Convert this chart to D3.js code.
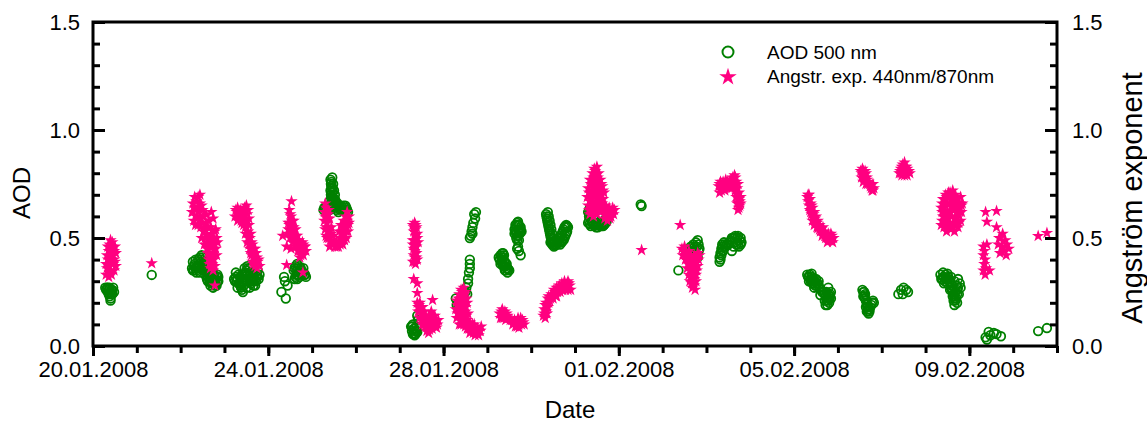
<!DOCTYPE html>
<html>
<head>
<meta charset="utf-8">
<script src="https://cdn.jsdelivr.net/npm/d3@7"></script>
<style>
  body { margin: 0; background: #fff; }
  svg { display: block; font-family: "Liberation Sans", Arial, sans-serif; }
</style>
</head>
<body>
<svg id="chart" width="1147" height="423"></svg>
<script>
// time is given in days after 20.01.2008 00:00 (UTC)
const startDate = Date.UTC(2008, 0, 20);
const endDate = Date.UTC(2008, 1, 11);

// AOD 500 nm  [day, value]
const aodPoints = [
  [0.28,0.27],[0.32,0.27],[0.36,0.26],[0.40,0.25],[0.44,0.26],[0.48,0.25],[0.38,0.23],[0.40,0.22],[0.42,0.24],[0.34,0.25],
  [0.30,0.26],[0.34,0.27],[0.38,0.27],[0.42,0.26],[0.46,0.27],[0.36,0.24],[0.44,0.24],[0.40,0.21],
  [1.34,0.329],
  [2.26,0.36],[2.30,0.37],[2.34,0.36],[2.38,0.37],[2.42,0.38],[2.46,0.40],[2.50,0.41],[2.54,0.39],[2.48,0.36],[2.56,0.36],
  [2.60,0.34],[2.64,0.33],[2.68,0.31],[2.72,0.30],[2.76,0.29],[2.80,0.31],[2.84,0.33],[2.86,0.30],[2.70,0.33],[2.78,0.28],[2.62,0.30],
  [2.28,0.35],[2.32,0.38],[2.36,0.35],[2.40,0.36],[2.44,0.37],[2.48,0.39],[2.52,0.38],[2.58,0.35],[2.62,0.32],[2.66,0.30],
  [2.70,0.29],[2.74,0.31],[2.78,0.30],[2.82,0.32],[2.84,0.30],[2.76,0.33],[2.66,0.34],[2.52,0.35],[2.30,0.35],[2.80,0.28],
  [2.28,0.39],[2.34,0.40],[2.40,0.40],[2.44,0.41],[2.48,0.42],[2.36,0.34],[2.44,0.34],[2.56,0.33],[2.60,0.31],[2.68,0.28],
  [2.74,0.27],[2.82,0.28],[2.86,0.32],[2.72,0.34],[2.58,0.37],
  [3.22,0.31],[3.26,0.32],[3.30,0.31],[3.34,0.29],[3.38,0.27],[3.42,0.30],[3.46,0.33],[3.50,0.35],[3.54,0.36],[3.58,0.34],
  [3.62,0.32],[3.66,0.30],[3.70,0.31],[3.74,0.33],[3.78,0.31],[3.36,0.32],[3.48,0.30],[3.60,0.29],[3.40,0.26],
  [3.24,0.30],[3.28,0.30],[3.32,0.29],[3.36,0.28],[3.40,0.29],[3.44,0.31],[3.48,0.34],[3.52,0.33],[3.56,0.32],[3.60,0.31],
  [3.64,0.31],[3.68,0.32],[3.72,0.30],[3.76,0.32],[3.44,0.28],[3.52,0.30],[3.66,0.28],[3.38,0.30],
  [3.26,0.34],[3.32,0.33],[3.40,0.33],[3.46,0.36],[3.52,0.37],[3.58,0.36],[3.64,0.34],[3.70,0.34],[3.76,0.35],[3.80,0.33],
  [3.42,0.25],[3.50,0.27],[3.58,0.27],[3.70,0.28],[3.30,0.27],
  [4.36,0.32],[4.30,0.25],[4.44,0.28],[4.40,0.22],[4.38,0.30],
  [4.58,0.35],[4.62,0.37],[4.66,0.38],[4.70,0.37],[4.74,0.36],[4.78,0.34],[4.82,0.33],[4.86,0.32],[4.64,0.33],[4.72,0.32],[4.60,0.31],[4.80,0.36],
  [4.60,0.36],[4.64,0.35],[4.68,0.36],[4.72,0.35],[4.76,0.35],[4.80,0.34],[4.84,0.33],[4.62,0.32],[4.68,0.33],[4.76,0.33],[4.70,0.34],[4.66,0.31],
  [5.42,0.77],[5.44,0.76],[5.46,0.78],[5.44,0.74],[5.48,0.75],[5.42,0.72],[5.46,0.71],[5.50,0.72],[5.44,0.69],[5.48,0.68],
  [5.52,0.70],[5.40,0.67],[5.46,0.66],[5.50,0.66],[5.54,0.67],[5.58,0.66],[5.36,0.65],[5.30,0.64],[5.26,0.63],[5.34,0.62],
  [5.62,0.64],[5.66,0.65],[5.70,0.64],[5.74,0.63],[5.78,0.64],[5.82,0.62],[5.56,0.63],[5.60,0.62],[5.40,0.63],[5.52,0.64],
  [5.43,0.75],[5.45,0.73],[5.47,0.73],[5.43,0.70],[5.47,0.69],[5.45,0.67],[5.49,0.67],[5.52,0.68],[5.38,0.64],[5.44,0.64],
  [5.48,0.65],[5.56,0.65],[5.64,0.63],[5.68,0.63],[5.72,0.65],[5.76,0.65],[5.80,0.63],[5.32,0.63],[5.28,0.64],
  [7.26,0.09],[7.28,0.07],[7.32,0.06],[7.36,0.055],[7.40,0.065],[7.30,0.10],[7.34,0.08],[7.38,0.09],[7.42,0.12],[7.40,0.14],
  [7.28,0.09],[7.32,0.08],[7.36,0.07],[7.30,0.055],[7.34,0.05],[7.38,0.07],
  [8.70,0.61],[8.74,0.62],[8.72,0.59],[8.68,0.57],[8.66,0.55],[8.64,0.53],[8.62,0.51],[8.60,0.50],[8.66,0.52],
  [8.60,0.40],[8.60,0.38],[8.60,0.36],[8.58,0.34],[8.56,0.31],[8.56,0.29],[8.52,0.27],
  [8.30,0.19],[8.34,0.18],[8.40,0.20],[8.46,0.22],[8.50,0.25],[8.54,0.24],[8.38,0.21],[8.28,0.22],
  [9.30,0.42],[9.34,0.43],[9.38,0.42],[9.28,0.40],[9.34,0.40],[9.40,0.39],[9.30,0.38],[9.36,0.37],[9.42,0.37],[9.46,0.36],
  [9.40,0.35],[9.46,0.34],[9.50,0.35],[9.26,0.41],
  [9.32,0.41],[9.36,0.41],[9.32,0.39],[9.38,0.39],[9.34,0.38],[9.40,0.37],[9.44,0.36],[9.42,0.35],[9.48,0.355],[9.36,0.43],[9.44,0.38],
  [9.70,0.46],[9.72,0.44],[9.76,0.42],[9.68,0.45],
  [9.64,0.56],[9.68,0.57],[9.72,0.56],[9.62,0.54],[9.70,0.54],[9.76,0.55],[9.62,0.52],[9.68,0.51],[9.74,0.52],[9.66,0.50],[9.72,0.49],[9.78,0.53],
  [9.66,0.55],[9.70,0.56],[9.74,0.54],[9.64,0.53],[9.72,0.53],[9.66,0.52],[9.70,0.51],[9.68,0.49],[9.76,0.53],[9.70,0.575],
  [10.34,0.61],[10.36,0.59],[10.38,0.57],[10.40,0.55],[10.42,0.53],[10.44,0.51],[10.46,0.49],[10.48,0.47],[10.52,0.46],[10.56,0.47],
  [10.60,0.48],[10.64,0.50],[10.68,0.51],[10.72,0.53],[10.76,0.55],[10.80,0.56],[10.84,0.55],[10.82,0.53],[10.78,0.51],[10.74,0.49],
  [10.70,0.48],[10.38,0.62],[10.42,0.58],[10.46,0.54],[10.50,0.50],[10.44,0.48],[10.66,0.47],
  [10.35,0.60],[10.37,0.58],[10.39,0.56],[10.41,0.54],[10.43,0.52],[10.45,0.50],[10.47,0.48],[10.50,0.47],[10.54,0.465],[10.58,0.47],
  [10.62,0.49],[10.66,0.50],[10.70,0.52],[10.74,0.54],[10.78,0.555],[10.82,0.555],[10.80,0.52],[10.76,0.50],[10.72,0.49],[10.68,0.48],
  [10.64,0.48],[10.40,0.60],[10.44,0.56],[10.48,0.52],[10.52,0.48],
  [11.30,0.62],[11.34,0.64],[11.32,0.60],[11.38,0.58],[11.30,0.57],[11.36,0.555],[11.42,0.56],[11.48,0.55],[11.54,0.56],[11.60,0.555],
  [11.66,0.56],[11.70,0.57],[11.72,0.59],[11.44,0.59],[11.40,0.62],
  [11.32,0.63],[11.34,0.61],[11.36,0.59],[11.32,0.58],[11.34,0.565],[11.40,0.57],[11.46,0.56],[11.52,0.55],[11.58,0.56],[11.64,0.555],
  [11.68,0.565],[11.72,0.575],[11.70,0.59],[11.42,0.60],[11.38,0.61],[11.50,0.57],[11.60,0.57],
  [12.50,0.655],[12.52,0.648],
  [13.36,0.35],
  [13.80,0.49],[13.82,0.47],[13.78,0.46],[13.70,0.47],[13.64,0.46],[13.60,0.44],[13.66,0.43],[13.74,0.44],[13.84,0.45],[13.62,0.41],[13.70,0.40],[13.80,0.41],
  [13.76,0.48],[13.72,0.46],[13.68,0.45],[13.64,0.44],[13.68,0.42],[13.76,0.43],[13.82,0.44],[13.74,0.41],[13.66,0.41],
  [14.30,0.41],[14.32,0.43],[14.34,0.45],[14.36,0.47],[14.40,0.48],[14.30,0.39],[14.38,0.44],[14.44,0.46],[14.50,0.47],[14.56,0.49],
  [14.60,0.50],[14.66,0.51],[14.72,0.51],[14.78,0.50],[14.80,0.48],[14.74,0.46],[14.68,0.47],[14.62,0.46],[14.58,0.44],
  [14.32,0.40],[14.34,0.42],[14.36,0.44],[14.38,0.46],[14.42,0.47],[14.46,0.47],[14.52,0.48],[14.58,0.50],[14.64,0.50],[14.70,0.50],
  [14.76,0.49],[14.78,0.47],[14.72,0.47],[14.66,0.48],
  [16.32,0.32],[16.36,0.33],[16.40,0.32],[16.44,0.31],[16.48,0.30],[16.34,0.30],[16.42,0.29],[16.50,0.28],[16.54,0.29],[16.58,0.27],
  [16.46,0.27],[16.64,0.25],[16.70,0.24],[16.76,0.22],[16.80,0.20],[16.76,0.19],[16.82,0.23],[16.84,0.25],[16.78,0.27],[16.60,0.236],
  [16.34,0.32],[16.38,0.31],[16.42,0.31],[16.46,0.30],[16.38,0.30],[16.44,0.29],[16.48,0.28],[16.52,0.29],[16.56,0.28],[16.62,0.26],
  [16.68,0.25],[16.72,0.23],[16.74,0.21],[16.78,0.21],[16.80,0.22],[16.82,0.24],[16.78,0.24],[16.74,0.25],
  [16.30,0.33],[16.40,0.335],[16.50,0.31],[16.56,0.30],[16.70,0.21],[16.72,0.19],[16.84,0.22],
  [17.56,0.26],[17.60,0.25],[17.58,0.23],[17.62,0.22],[17.66,0.20],[17.64,0.18],[17.68,0.16],[17.72,0.17],[17.76,0.19],[17.80,0.21],[17.82,0.20],[17.70,0.15],
  [17.58,0.25],[17.60,0.23],[17.62,0.24],[17.64,0.21],[17.66,0.19],[17.68,0.18],[17.70,0.17],[17.72,0.16],[17.74,0.18],[17.78,0.20],[17.66,0.16],
  [18.38,0.24],[18.44,0.26],[18.50,0.27],[18.56,0.26],[18.60,0.25],[18.48,0.24],
  [19.36,0.31],[19.40,0.32],[19.46,0.33],[19.52,0.32],[19.42,0.29],[19.50,0.29],[19.56,0.30],[19.60,0.28],[19.56,0.26],[19.62,0.25],
  [19.66,0.23],[19.70,0.22],[19.64,0.21],[19.72,0.26],[19.78,0.29],[19.76,0.24],[19.70,0.28],[19.48,0.31],
  [19.38,0.31],[19.42,0.32],[19.46,0.31],[19.50,0.31],[19.54,0.30],[19.58,0.29],[19.58,0.27],[19.60,0.26],[19.64,0.24],[19.66,0.22],
  [19.68,0.21],[19.68,0.25],[19.72,0.24],[19.74,0.27],[19.44,0.30],[19.62,0.23],
  [19.34,0.33],[19.40,0.34],[19.50,0.335],[19.58,0.32],[19.66,0.30],[19.74,0.31],[19.80,0.27],[19.66,0.19],[19.72,0.20],
  [20.37,0.04],[20.44,0.065],[20.48,0.05],[20.56,0.06],[20.62,0.055],[20.72,0.045],[20.40,0.03],
  [21.57,0.069],[21.77,0.083]
];

// Angstrom exponent 440/870 nm  [day, value]
const angstromPoints = [
  [0.30,0.33],[0.32,0.36],[0.34,0.40],[0.36,0.44],[0.38,0.47],[0.40,0.49],[0.42,0.46],[0.44,0.42],[0.46,0.38],[0.48,0.35],
  [0.50,0.39],[0.52,0.43],[0.36,0.32],[0.40,0.35],[0.44,0.45],[0.30,0.38],[0.48,0.44],[0.42,0.40],
  [0.32,0.42],[0.36,0.37],[0.38,0.41],[0.40,0.44],[0.44,0.48],[0.46,0.42],[0.50,0.46],[0.34,0.46],[0.38,0.34],[0.42,0.33],[0.48,0.40],[0.52,0.37],
  [1.34,0.383],
  [2.26,0.62],[2.28,0.66],[2.32,0.64],[2.36,0.67],[2.40,0.69],[2.44,0.70],[2.30,0.58],[2.36,0.60],[2.42,0.62],[2.48,0.65],
  [2.52,0.60],[2.40,0.56],[2.46,0.55],[2.52,0.53],[2.58,0.57],[2.62,0.55],[2.70,0.62],[2.74,0.59],[2.48,0.50],[2.56,0.50],
  [2.62,0.48],[2.70,0.52],[2.76,0.50],[2.80,0.54],[2.60,0.45],[2.66,0.43],[2.72,0.46],[2.80,0.45],[2.84,0.48],[2.64,0.40],
  [2.70,0.38],[2.76,0.40],[2.82,0.42],[2.68,0.36],[2.74,0.35],[2.78,0.28],
  [2.28,0.62],[2.32,0.69],[2.38,0.64],[2.44,0.66],[2.34,0.56],[2.44,0.59],[2.50,0.57],[2.56,0.54],[2.64,0.58],[2.68,0.55],
  [2.54,0.47],[2.60,0.51],[2.66,0.50],[2.72,0.49],[2.78,0.53],[2.62,0.43],[2.68,0.46],[2.74,0.43],[2.78,0.47],[2.82,0.50],
  [2.72,0.38],[2.78,0.37],[2.66,0.38],[2.70,0.41],[2.76,0.45],[2.50,0.63],[2.58,0.61],
  [3.24,0.60],[3.28,0.62],[3.32,0.61],[3.36,0.63],[3.40,0.62],[3.46,0.64],[3.50,0.65],[3.54,0.63],[3.30,0.58],[3.38,0.58],
  [3.44,0.56],[3.50,0.58],[3.56,0.56],[3.48,0.52],[3.54,0.50],[3.60,0.52],[3.56,0.47],[3.62,0.48],[3.66,0.45],[3.60,0.43],
  [3.66,0.41],[3.72,0.43],[3.64,0.39],[3.70,0.37],[3.76,0.39],[3.80,0.37],[3.74,0.41],
  [3.26,0.63],[3.34,0.60],[3.42,0.60],[3.44,0.63],[3.52,0.61],[3.40,0.57],[3.48,0.55],[3.54,0.53],[3.58,0.50],[3.52,0.48],
  [3.58,0.45],[3.64,0.47],[3.62,0.42],[3.68,0.43],[3.66,0.38],[3.72,0.39],[3.74,0.36],[3.78,0.40],[3.70,0.45],[3.56,0.59],[3.30,0.64],
  [4.53,0.67],[4.33,0.51],[4.42,0.46],[4.42,0.375],[4.79,0.34],
  [4.48,0.63],[4.52,0.60],[4.50,0.57],[4.46,0.54],[4.54,0.55],[4.58,0.58],[4.44,0.52],[4.50,0.50],[4.56,0.52],[4.62,0.54],
  [4.60,0.50],[4.66,0.51],[4.70,0.49],[4.64,0.47],[4.72,0.46],[4.78,0.48],[4.82,0.46],[4.86,0.44],[4.68,0.44],[4.76,0.43],
  [4.72,0.41],[4.80,0.42],[4.56,0.48],[4.52,0.45],
  [4.50,0.61],[4.54,0.58],[4.48,0.56],[4.52,0.53],[4.58,0.55],[4.62,0.51],[4.56,0.50],[4.68,0.48],[4.62,0.46],[4.74,0.47],
  [4.70,0.45],[4.78,0.45],[4.84,0.46],[4.74,0.42],[4.66,0.49],[4.46,0.57],[4.80,0.47],
  [5.28,0.62],[5.32,0.64],[5.36,0.61],[5.28,0.58],[5.34,0.57],[5.40,0.59],[5.30,0.54],[5.38,0.53],[5.44,0.55],[5.34,0.50],
  [5.42,0.49],[5.48,0.51],[5.40,0.46],[5.46,0.47],[5.52,0.46],[5.56,0.48],[5.60,0.46],
  [5.64,0.50],[5.68,0.53],[5.66,0.56],[5.72,0.58],[5.76,0.60],[5.80,0.62],[5.84,0.60],[5.82,0.56],[5.78,0.53],[5.74,0.49],
  [5.70,0.47],[5.84,0.57],[5.62,0.53],
  [5.30,0.60],[5.34,0.59],[5.32,0.55],[5.36,0.55],[5.32,0.51],[5.38,0.50],[5.44,0.52],[5.44,0.48],[5.50,0.48],[5.56,0.46],
  [5.64,0.47],[5.68,0.49],[5.72,0.52],[5.76,0.56],[5.80,0.58],[5.78,0.50],[5.70,0.55],[5.74,0.54],[5.82,0.53],[5.38,0.63],[5.30,0.66],
  [7.30,0.56],[7.34,0.57],[7.38,0.55],[7.32,0.53],[7.36,0.51],[7.40,0.52],[7.30,0.49],[7.36,0.47],[7.42,0.48],[7.32,0.45],
  [7.38,0.43],[7.34,0.41],[7.40,0.40],[7.30,0.39],[7.36,0.38],
  [7.32,0.55],[7.36,0.54],[7.34,0.49],[7.38,0.46],[7.34,0.44],[7.32,0.42],[7.38,0.41],[7.34,0.39],[7.40,0.50],[7.30,0.47],[7.36,0.56],
  [7.32,0.31],[7.40,0.29],[7.40,0.245],[7.75,0.213],
  [7.40,0.20],[7.44,0.19],[7.48,0.18],[7.42,0.16],[7.50,0.15],[7.56,0.16],[7.46,0.13],[7.54,0.12],[7.60,0.13],[7.66,0.14],
  [7.52,0.10],[7.58,0.09],[7.64,0.10],[7.70,0.11],[7.76,0.12],[7.82,0.11],[7.88,0.12],[7.62,0.07],[7.68,0.075],[7.74,0.08],
  [7.84,0.085],[7.72,0.16],[7.80,0.14],
  [7.42,0.18],[7.46,0.16],[7.50,0.12],[7.56,0.14],[7.62,0.12],[7.56,0.10],[7.62,0.09],[7.68,0.09],[7.72,0.10],[7.66,0.12],
  [7.70,0.13],[7.78,0.10],[7.86,0.10],[7.80,0.09],[7.66,0.06],[7.76,0.14],[7.46,0.20],[7.52,0.18],
  [8.40,0.26],[8.46,0.27],[8.50,0.25],[8.36,0.24],[8.44,0.23],[8.52,0.22],[8.30,0.21],[8.38,0.20],[8.46,0.19],[8.54,0.20],
  [8.28,0.17],[8.34,0.16],[8.42,0.17],[8.50,0.16],[8.56,0.15],[8.30,0.13],[8.38,0.12],[8.46,0.13],[8.54,0.12],[8.60,0.11],
  [8.66,0.10],[8.40,0.10],[8.50,0.09],[8.58,0.08],[8.64,0.07],[8.70,0.08],[8.76,0.06],[8.82,0.07],[8.86,0.09],[8.80,0.05],[8.72,0.05],
  [8.42,0.25],[8.48,0.24],[8.34,0.22],[8.40,0.22],[8.48,0.21],[8.32,0.19],[8.42,0.19],[8.50,0.18],[8.36,0.18],[8.44,0.15],
  [8.38,0.15],[8.32,0.15],[8.52,0.14],[8.42,0.12],[8.50,0.11],[8.56,0.10],[8.62,0.09],[8.46,0.10],[8.54,0.08],[8.68,0.06],
  [8.74,0.07],[8.78,0.08],[8.84,0.07],[8.60,0.06],[8.70,0.10],[8.36,0.10],
  [9.28,0.15],[9.34,0.17],[9.40,0.16],[9.30,0.13],[9.38,0.13],[9.46,0.14],[9.52,0.12],[9.58,0.10],[9.62,0.12],[9.68,0.09],
  [9.74,0.11],[9.80,0.12],[9.84,0.10],[9.70,0.13],[9.64,0.09],
  [9.32,0.16],[9.36,0.15],[9.44,0.15],[9.34,0.13],[9.42,0.12],[9.56,0.12],[9.60,0.11],[9.66,0.11],[9.72,0.10],[9.78,0.10],
  [9.76,0.13],[9.82,0.11],[9.72,0.085],
  [10.28,0.14],[10.32,0.13],[10.36,0.15],[10.30,0.17],[10.38,0.18],[10.34,0.20],[10.42,0.21],[10.40,0.23],[10.46,0.24],[10.50,0.22],
  [10.52,0.26],[10.58,0.27],[10.64,0.28],[10.70,0.29],[10.76,0.30],[10.82,0.29],[10.88,0.28],[10.90,0.26],[10.84,0.26],[10.72,0.26],
  [10.60,0.25],[10.56,0.23],[10.66,0.25],
  [10.30,0.15],[10.34,0.16],[10.32,0.19],[10.36,0.19],[10.40,0.20],[10.38,0.22],[10.44,0.22],[10.48,0.23],[10.54,0.25],[10.62,0.27],
  [10.68,0.27],[10.74,0.28],[10.80,0.28],[10.86,0.29],[10.78,0.26],[10.70,0.26],[10.58,0.23],[10.84,0.30],
  [11.44,0.82],[11.50,0.83],[11.40,0.80],[11.48,0.79],[11.54,0.80],[11.34,0.77],[11.42,0.76],[11.50,0.76],[11.58,0.77],[11.30,0.73],
  [11.38,0.72],[11.46,0.73],[11.54,0.72],[11.62,0.74],[11.28,0.69],[11.36,0.68],[11.44,0.69],[11.52,0.68],[11.60,0.70],[11.66,0.71],
  [11.30,0.65],[11.38,0.64],[11.46,0.65],[11.54,0.64],[11.62,0.66],[11.34,0.61],[11.42,0.60],[11.50,0.61],[11.58,0.62],[11.66,0.63],
  [11.72,0.61],[11.78,0.64],[11.84,0.62],[11.90,0.63],[11.74,0.58],[11.80,0.59],[11.68,0.59],
  [11.46,0.81],[11.42,0.78],[11.52,0.78],[11.36,0.75],[11.44,0.74],[11.52,0.74],[11.60,0.75],[11.32,0.71],[11.40,0.70],[11.48,0.71],
  [11.56,0.70],[11.64,0.72],[11.34,0.67],[11.42,0.66],[11.50,0.67],[11.58,0.66],[11.64,0.68],[11.32,0.63],[11.40,0.62],[11.48,0.63],
  [11.56,0.63],[11.64,0.64],[11.70,0.62],[11.76,0.61],[11.82,0.60],[11.88,0.61],[11.86,0.64],[11.76,0.60],[11.70,0.65],
  [12.52,0.444],
  [13.40,0.56],
  [13.44,0.45],[13.50,0.46],[13.46,0.42],[13.54,0.43],[13.60,0.44],[13.52,0.40],[13.60,0.39],[13.68,0.40],[13.76,0.41],[13.84,0.42],
  [13.56,0.36],[13.64,0.37],[13.72,0.36],[13.80,0.37],[13.60,0.33],[13.68,0.32],[13.76,0.33],[13.62,0.30],[13.70,0.29],[13.76,0.30],
  [13.68,0.27],[13.74,0.26],
  [13.48,0.44],[13.52,0.42],[13.56,0.41],[13.64,0.42],[13.72,0.42],[13.80,0.43],[13.58,0.38],[13.66,0.39],[13.74,0.38],[13.62,0.35],
  [13.70,0.34],[13.78,0.35],[13.64,0.32],[13.72,0.31],[13.66,0.29],[13.72,0.28],[13.82,0.40],
  [14.28,0.74],[14.32,0.76],[14.36,0.73],[14.30,0.71],[14.40,0.75],[14.44,0.77],[14.48,0.76],[14.42,0.72],[14.50,0.74],[14.56,0.77],
  [14.60,0.78],[14.64,0.79],[14.68,0.76],[14.58,0.73],[14.66,0.72],[14.70,0.70],[14.74,0.68],[14.70,0.66],[14.76,0.65],[14.72,0.63],[14.78,0.69],
  [14.30,0.75],[14.34,0.74],[14.38,0.76],[14.34,0.72],[14.46,0.74],[14.52,0.76],[14.54,0.73],[14.62,0.76],[14.66,0.78],[14.62,0.74],
  [14.70,0.73],[14.72,0.75],[14.68,0.69],[14.74,0.71],[14.76,0.67],[14.72,0.665],[14.74,0.64],[14.78,0.66],
  [16.30,0.69],[16.34,0.70],[16.32,0.67],[16.38,0.66],[16.36,0.63],[16.42,0.64],[16.40,0.61],[16.46,0.62],[16.44,0.59],[16.50,0.60],
  [16.48,0.57],[16.54,0.58],[16.52,0.55],[16.58,0.56],[16.60,0.53],[16.66,0.55],[16.64,0.51],[16.70,0.53],[16.72,0.50],[16.78,0.52],
  [16.80,0.49],[16.86,0.51],[16.88,0.48],[16.90,0.50],[16.76,0.48],
  [16.32,0.70],[16.36,0.68],[16.34,0.65],[16.40,0.65],[16.38,0.62],[16.44,0.61],[16.42,0.58],[16.48,0.59],[16.46,0.56],[16.52,0.57],
  [16.54,0.545],[16.58,0.54],[16.62,0.54],[16.66,0.52],[16.70,0.51],[16.74,0.51],[16.76,0.50],[16.82,0.50],[16.84,0.49],[16.88,0.50],[16.84,0.52],
  [17.52,0.81],[17.56,0.82],[17.62,0.81],[17.54,0.78],[17.60,0.79],[17.66,0.78],[17.58,0.76],[17.64,0.75],[17.70,0.76],[17.74,0.74],
  [17.78,0.72],[17.82,0.73],[17.80,0.75],
  [17.54,0.80],[17.58,0.81],[17.58,0.79],[17.62,0.78],[17.60,0.77],[17.66,0.77],[17.68,0.75],[17.72,0.75],[17.76,0.73],[17.80,0.72],[17.64,0.80],
  [18.40,0.80],[18.44,0.82],[18.48,0.84],[18.52,0.85],[18.56,0.83],[18.60,0.81],[18.64,0.80],[18.50,0.80],[18.58,0.79],[18.46,0.79],[18.54,0.81],
  [18.42,0.81],[18.46,0.83],[18.50,0.83],[18.54,0.83],[18.58,0.82],[18.62,0.81],[18.52,0.79],[18.56,0.80],[18.44,0.80],[18.48,0.81],
  [19.36,0.56],[19.40,0.60],[19.36,0.64],[19.40,0.68],[19.46,0.70],[19.52,0.71],[19.58,0.70],[19.62,0.72],[19.68,0.70],[19.72,0.68],
  [19.78,0.66],[19.82,0.62],[19.80,0.58],[19.74,0.55],[19.66,0.53],[19.58,0.54],[19.48,0.53],[19.42,0.55],[19.46,0.58],[19.50,0.62],
  [19.56,0.66],[19.62,0.64],[19.68,0.60],[19.72,0.62],[19.54,0.57],[19.64,0.57],[19.46,0.65],[19.84,0.66],[19.60,0.68],
  [19.38,0.58],[19.38,0.62],[19.38,0.66],[19.42,0.64],[19.42,0.60],[19.44,0.68],[19.48,0.69],[19.50,0.66],[19.54,0.69],[19.56,0.62],
  [19.58,0.60],[19.60,0.65],[19.64,0.69],[19.66,0.66],[19.66,0.63],[19.70,0.66],[19.74,0.65],[19.76,0.61],[19.78,0.62],[19.76,0.57],
  [19.70,0.56],[19.62,0.55],[19.52,0.55],[19.44,0.56],[19.52,0.59],[19.48,0.61],[19.70,0.59],[19.82,0.65],[19.80,0.69],[19.56,0.71],
  [20.37,0.62],[20.62,0.625],[20.40,0.575],[20.62,0.55],[20.68,0.50],
  [20.32,0.46],[20.34,0.44],[20.32,0.42],[20.36,0.40],[20.34,0.38],[20.38,0.36],[20.32,0.35],[20.36,0.33],[20.46,0.35],[20.40,0.47],
  [20.70,0.50],[20.76,0.52],[20.82,0.49],[20.74,0.46],[20.86,0.47],[20.80,0.44],[20.70,0.43],[20.84,0.42],[20.66,0.47],[20.90,0.45],
  [21.57,0.509],[21.77,0.523]
];

const majorTickDates = ["2008-01-20", "2008-01-24", "2008-01-28", "2008-02-01", "2008-02-05", "2008-02-09"];
const yMajorTicks = [0, 0.5, 1.0, 1.5];
const yMinorTicks = [0.1, 0.2, 0.3, 0.4, 0.6, 0.7, 0.8, 0.9, 1.1, 1.2, 1.3, 1.4];
const legendLabels = ["AOD 500 nm", "Angstr. exp. 440nm/870nm"];

const green = "#008000", pink = "#ff0080";
const margin = {left: 93, right: 1057, top: 22, bottom: 346};

const svg = d3.select("#chart");
const toDate = d => d3.utcMinute.offset(new Date(startDate), Math.round(d * 1440));

const x = d3.scaleUtc().domain([new Date(startDate), new Date(endDate)]).range([margin.left, margin.right]);
const y = d3.scaleLinear().domain([0, 1.5]).range([margin.bottom, margin.top]);

// markers (stars drawn over circles)
svg.append("g").selectAll("circle")
    .data(aodPoints)
    .join("circle")
    .attr("cx", d => x(toDate(d[0])))
    .attr("cy", d => y(d[1]))
    .attr("r", 4.3)
    .attr("fill", "none")
    .attr("stroke", green)
    .attr("stroke-width", 1.8);

const star = d3.symbol(d3.symbolStar, 48);
svg.append("g").selectAll("path")
    .data(angstromPoints)
    .join("path")
    .attr("transform", d => `translate(${x(toDate(d[0]))},${y(d[1])})`)
    .attr("d", star)
    .attr("fill", pink);

// axes
const parseDay = d3.utcParse("%Y-%m-%d");
const fmt = d3.utcFormat("%d.%m.%Y");

function styleAxis(g, w) {
  g.select(".domain").remove();
  g.selectAll("line").attr("stroke", "#000").attr("stroke-width", w);
  g.selectAll("text").attr("fill", "#000").attr("font-size", 22)
      .attr("font-family", "Liberation Sans, Arial, sans-serif");
}

svg.append("g")
    .attr("transform", `translate(0,${margin.bottom})`)
    .call(d3.axisBottom(x).ticks(d3.utcDay.every(1)).tickSize(7).tickFormat(""))
    .call(g => styleAxis(g, 3));

svg.append("g")
    .attr("transform", `translate(0,${margin.bottom})`)
    .call(d3.axisBottom(x).tickValues(majorTickDates.map(parseDay)).tickSize(10).tickPadding(5).tickFormat(fmt))
    .call(g => styleAxis(g, 3));

svg.append("g")
    .attr("transform", `translate(${margin.left},0)`)
    .call(d3.axisLeft(y).tickValues(yMajorTicks).tickSize(-12).tickPadding(13).tickFormat(d3.format(".1f")))
    .call(g => styleAxis(g, 3));
svg.append("g")
    .attr("transform", `translate(${margin.left},0)`)
    .call(d3.axisLeft(y).tickValues(yMinorTicks).tickSize(-7).tickFormat(""))
    .call(g => styleAxis(g, 3));

svg.append("g")
    .attr("transform", `translate(${margin.right},0)`)
    .call(d3.axisRight(y).tickValues(yMajorTicks).tickSize(-12).tickPadding(15).tickFormat(d3.format(".1f")))
    .call(g => styleAxis(g, 3));
svg.append("g")
    .attr("transform", `translate(${margin.right},0)`)
    .call(d3.axisRight(y).tickValues(yMinorTicks).tickSize(-7).tickFormat(""))
    .call(g => styleAxis(g, 3));

// frame
svg.append("rect")
    .attr("x", margin.left).attr("y", margin.top)
    .attr("width", margin.right - margin.left).attr("height", margin.bottom - margin.top)
    .attr("fill", "none").attr("stroke", "#000").attr("stroke-width", 3);

// axis titles
svg.append("text")
    .attr("x", (margin.left + margin.right) / 2 - 5).attr("y", 418)
    .attr("text-anchor", "middle").attr("font-size", 24)
    .text("Date");
svg.append("text")
    .attr("transform", "translate(30,193) rotate(-90)")
    .attr("text-anchor", "middle").attr("font-size", 24)
    .text("AOD");
svg.append("text")
    .attr("transform", "translate(1142,198) rotate(-90)")
    .attr("text-anchor", "middle").attr("font-size", 29)
    .text("Angström exponent");

// legend
const legend = svg.append("g");
legend.append("circle")
    .attr("cx", 728).attr("cy", 52).attr("r", 5.5)
    .attr("fill", "none").attr("stroke", green).attr("stroke-width", 2);
legend.append("path")
    .attr("transform", "translate(728,77)")
    .attr("d", d3.symbol(d3.symbolStar, 95))
    .attr("fill", pink);
legend.selectAll("text.lab")
    .data(legendLabels)
    .join("text")
    .attr("class", "lab")
    .attr("x", 767)
    .attr("y", (d, i) => 52 + i * 24)
    .attr("dy", "0.35em")
    .attr("font-size", 19)
    .text(d => d);
</script>
</body>
</html>
